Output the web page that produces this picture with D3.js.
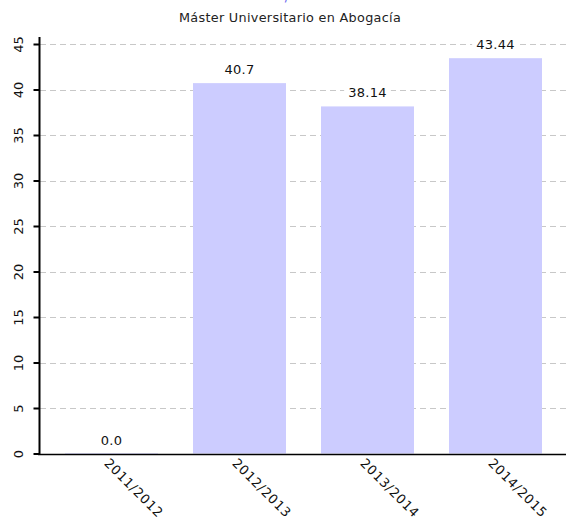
<!DOCTYPE html>
<html><head><meta charset="utf-8">
<script src="https://cdn.jsdelivr.net/npm/d3@7"></script>
<style>body{margin:0;background:#fff}svg{display:block}text{font-family:"DejaVu Sans",sans-serif}</style>
</head><body>
<script>
const categories = ["2011/2012","2012/2013","2013/2014","2014/2015"];
const values = [0.0, 40.7, 38.14, 43.44];
const valueLabels = ["0.0","40.7","38.14","43.44"];
const yTicks = [0,5,10,15,20,25,30,35,40,45];
const title = "/";
const subtitle = "Máster Universitario en Abogacía";

const W = 566, H = 526;
const svg = d3.select("body").append("svg").attr("width", W).attr("height", H);

const x = d3.scaleBand().domain(categories).range([39, 568]).paddingInner(35/128).paddingOuter(26/128);
const y = d3.scaleLinear().domain([0, 45]).range([453.5, 44]);

// clipped main title (only a fragment visible, as in the reference)
svg.append("text").attr("x", 287).attr("y", 0.5).attr("text-anchor", "middle")
  .attr("font-size", 13).attr("fill", "#6666ee").text(title);

svg.append("text").attr("x", 290).attr("y", 22).attr("text-anchor", "middle")
  .attr("font-size", 12.8).attr("letter-spacing", 0.3).attr("fill", "#222").text(subtitle);

// gridlines
svg.append("g").selectAll("line").data(yTicks).join("line")
  .attr("x1", 40).attr("x2", W).attr("y1", d => Math.round(y(d)) + 0.5).attr("y2", d => Math.round(y(d)) + 0.5)
  .attr("stroke", d => d === 0 ? "#666" : "#c8c8c8").attr("stroke-width", 1).attr("stroke-dasharray", "6,4");

// bars
svg.append("g").selectAll("rect").data(values).join("rect")
  .attr("x", (d, i) => x(categories[i])).attr("width", x.bandwidth())
  .attr("y", d => y(d)).attr("height", d => Math.max(1, y(0) - y(d)))
  .attr("fill", "#ccccff");

// value labels with white background
const lg = svg.append("g").selectAll("g").data(values).join("g")
  .attr("transform", (d, i) => `translate(${x(categories[i]) + x.bandwidth()/2},${y(d) - 9})`);
lg.append("text").attr("text-anchor", "middle").attr("font-size", 13).attr("letter-spacing", 0.3).attr("fill", "#111")
  .text((d, i) => valueLabels[i]);
lg.each(function() {
  const g = d3.select(this); const b = g.select("text").node().getBBox();
  g.insert("rect", "text").attr("x", b.x - 4).attr("y", b.y).attr("width", b.width + 8).attr("height", b.height).attr("fill", "#fff");
});

// x axis line
svg.append("line").attr("x1", 38).attr("x2", W).attr("y1", 454.5).attr("y2", 454.5).attr("stroke", "#000").attr("stroke-width", 1.5);

// y axis
const yAxis = svg.append("g").attr("transform", "translate(39.5,0)")
  .call(d3.axisLeft(y).tickValues(yTicks).tickSize(6).tickFormat(d3.format("d")));
yAxis.select(".domain").attr("stroke", "#000").attr("stroke-width", 2).attr("d", `M0,${y(45) - 7}V${y(0) + 1}`);
yAxis.selectAll(".tick line").attr("stroke", "#000").attr("stroke-width", 2);
yAxis.selectAll(".tick text").attr("font-family", "DejaVu Sans").attr("font-size", 13).attr("fill", "#111")
  .attr("x", null).attr("dy", null).attr("text-anchor", "middle")
  .attr("transform", "translate(-21,0) rotate(-90)").attr("dy", "0.35em");

// x labels
svg.append("g").selectAll("text").data(categories).join("text")
  .attr("font-size", 13).attr("letter-spacing", 0.7).attr("fill", "#111").attr("text-anchor", "start")
  .attr("transform", d => `translate(${x(d) + x.bandwidth()/2 - 8},${464}) rotate(45)`)
  .text(d => d);
</script>
</body></html>
